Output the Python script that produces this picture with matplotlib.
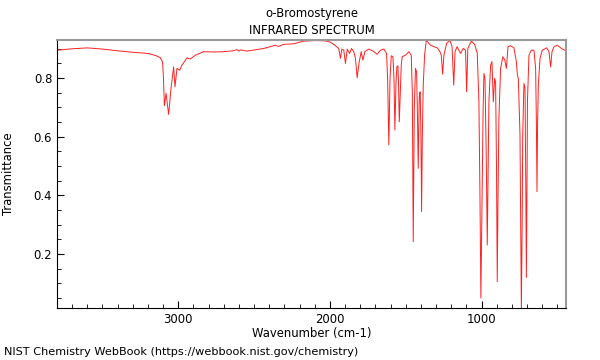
import matplotlib
matplotlib.use('agg')
import matplotlib.pyplot as plt
from matplotlib.ticker import MultipleLocator

title = "o-Bromostyrene"
subtitle = "INFRARED SPECTRUM"
xlabel = "Wavenumber (cm-1)"
ylabel = "Transmittance"
footer = "NIST Chemistry WebBook (https://webbook.nist.gov/chemistry)"

# wavenumber (cm-1)
wavenumber = [3800, 3700, 3600, 3500, 3400, 3300, 3200, 3150, 3120, 3104,
              3098, 3092, 3081, 3064, 3048, 3031, 3022, 3009, 2991, 2976,
              2943, 2921, 2888, 2833, 2760, 2701, 2640, 2613, 2600, 2590,
              2547, 2437, 2360, 2340, 2305, 2239, 2173, 2100, 2041, 2020,
              1997, 1975, 1942, 1931, 1922, 1909, 1898, 1886, 1871, 1858,
              1843, 1832, 1821, 1807, 1794, 1783, 1770, 1744, 1715, 1689,
              1667, 1645, 1627, 1620, 1612, 1604, 1596, 1585, 1578, 1572,
              1565, 1559, 1552, 1548, 1543, 1535, 1530, 1524, 1502, 1480,
              1464, 1457, 1451, 1444, 1436, 1429, 1424, 1418, 1412, 1409,
              1405, 1400, 1396, 1391, 1385, 1376, 1365, 1337, 1315, 1292,
              1277, 1266, 1257, 1249, 1231, 1209, 1195, 1184, 1175, 1162,
              1139, 1122, 1106, 1099, 1091, 1068, 1046, 1029, 1018, 1011,
              1005, 996, 990, 985, 978, 970, 963, 957, 952, 941,
              932, 923, 914, 908, 902, 897, 892, 886, 875, 860,
              847, 837, 826, 809, 787, 771, 764, 758, 747, 742,
              738, 733, 729, 721, 714, 709, 705, 700, 698, 688,
              672, 655, 644, 639, 635, 631, 626, 615, 600, 571,
              556, 545, 536, 523, 501, 479, 468, 450]

transmittance = [0.895, 0.900, 0.903, 0.899, 0.893, 0.888, 0.884, 0.877, 0.870, 0.855,
                 0.800, 0.706, 0.748, 0.676, 0.766, 0.838, 0.770, 0.833, 0.827, 0.844,
                 0.869, 0.865, 0.878, 0.890, 0.889, 0.890, 0.893, 0.897, 0.892, 0.896,
                 0.892, 0.901, 0.912, 0.908, 0.915, 0.917, 0.926, 0.928, 0.927, 0.926,
                 0.922, 0.915, 0.901, 0.867, 0.899, 0.895, 0.850, 0.899, 0.884, 0.901,
                 0.890, 0.867, 0.801, 0.856, 0.890, 0.861, 0.890, 0.899, 0.892, 0.881,
                 0.895, 0.899, 0.884, 0.800, 0.572, 0.800, 0.876, 0.873, 0.800, 0.623,
                 0.780, 0.838, 0.842, 0.780, 0.651, 0.776, 0.844, 0.873, 0.878, 0.890,
                 0.878, 0.750, 0.242, 0.700, 0.833, 0.821, 0.700, 0.492, 0.720, 0.748,
                 0.753, 0.600, 0.345, 0.600, 0.776, 0.878, 0.929, 0.912, 0.907, 0.903,
                 0.892, 0.878, 0.813, 0.878, 0.918, 0.929, 0.907, 0.776, 0.890, 0.907,
                 0.884, 0.901, 0.895, 0.753, 0.901, 0.926, 0.915, 0.885, 0.719, 0.400,
                 0.050, 0.450, 0.700, 0.816, 0.799, 0.550, 0.231, 0.500, 0.719, 0.844,
                 0.856, 0.719, 0.799, 0.787, 0.500, 0.106, 0.400, 0.663, 0.833, 0.873,
                 0.861, 0.833, 0.907, 0.910, 0.903, 0.856, 0.810, 0.799, 0.606, 0.250,
                 0.005, 0.300, 0.606, 0.782, 0.765, 0.450, 0.120, 0.500, 0.719, 0.878,
                 0.895, 0.895, 0.833, 0.650, 0.413, 0.650, 0.776, 0.867, 0.895, 0.903,
                 0.890, 0.838, 0.890, 0.907, 0.912, 0.903, 0.899, 0.895]

fig = plt.figure(figsize=(6, 3.6), dpi=100)
ax = fig.add_axes([0.095, 0.1444, 0.848, 0.7446])

ax.plot(wavenumber, transmittance, color='#ff2020', lw=0.7)

ax.set_xlim(3800, 445)
ax.set_ylim(0.016, 0.93)

ax.xaxis.set_major_locator(MultipleLocator(1000))
ax.xaxis.set_minor_locator(MultipleLocator(100))
ax.yaxis.set_major_locator(MultipleLocator(0.2))
ax.yaxis.set_minor_locator(MultipleLocator(0.05))
ax.tick_params(which='both', direction='in', labelsize=8.4)
ax.tick_params(which='major', length=5)
ax.tick_params(which='minor', length=3)
ax.tick_params(top=False, right=False, which='both')

for side in ['top', 'right']:
    ax.spines[side].set_color('#999999')
    ax.spines[side].set_linewidth(1.5)

ax.set_xlabel(xlabel, fontsize=8.4)
ax.xaxis.set_label_coords(0.5, -0.071)
ax.set_ylabel(ylabel, fontsize=8.4)
ax.yaxis.set_label_coords(-0.082, 0.5)
fig.text(0.519, 1 - 13 / 360, title, fontsize=8.4, ha='center', va='center')
fig.text(0.519, 1 - 30 / 360, subtitle, fontsize=8.4, ha='center', va='center')
fig.text(0.007, 1 - 352 / 360, footer, fontsize=8.1, va='center')

fig.savefig('out.png', dpi=100)
